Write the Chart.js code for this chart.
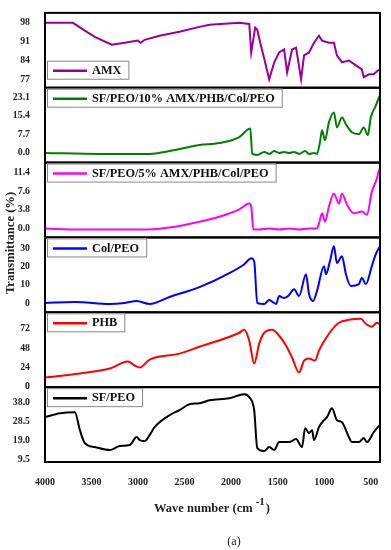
<!DOCTYPE html>
<html>
<head>
<meta charset="utf-8">
<script src="https://cdn.jsdelivr.net/npm/chart.js"></script>
<style>
  body { margin: 0; background: #fff; }
</style>
</head>
<body>
<canvas id="myChart" width="391" height="550"></canvas>
<script>
// series names (top to bottom)
var seriesNames = ["AMX", "SF/PEO/10% AMX/PHB/Col/PEO", "SF/PEO/5% AMX/PHB/Col/PEO", "Col/PEO", "PHB", "SF/PEO"];

// wave numbers (cm-1) and transmittance (%)
var amxWn = [4000, 3700, 3572, 3465, 3283, 3143, 3004, 2972, 2929, 2769, 2555, 2340, 2233, 1912, 1805, 1784, 1741, 1719, 1687, 1634, 1591, 1537, 1484, 1430, 1398, 1345, 1302, 1248, 1216, 1163, 1109, 1056, 1023, 949, 895, 863, 809, 734, 659, 595, 574, 520, 467, 424, 400];
var amxT  = [98.0, 98.0, 95.1, 92.8, 89.9, 90.6, 91.4, 90.6, 91.7, 93.2, 94.7, 96.5, 97.3, 98.0, 97.6, 87.0, 96.2, 95.4, 90.6, 83.3, 77.0, 83.3, 87.0, 88.1, 79.6, 88.1, 88.8, 77.0, 85.9, 87.0, 90.6, 93.2, 91.4, 90.6, 90.6, 85.9, 83.3, 84.0, 82.2, 80.7, 77.8, 78.9, 78.9, 80.3, 80.6];

var tenWn = [4000, 3411, 2876, 2662, 2340, 2126, 1912, 1794, 1773, 1719, 1644, 1591, 1537, 1484, 1430, 1377, 1323, 1270, 1205, 1163, 1109, 1077, 1045, 1023, 991, 949, 895, 863, 809, 766, 702, 627, 574, 531, 499, 445, 413, 400];
var tenT  = [0.0, -0.4, -0.4, 0.8, 3.3, 4.1, 6.6, 10.2, -0.4, -0.8, 0.4, -0.4, 0.8, 0.0, 0.4, 0.0, 0.4, -0.4, 0.8, -0.4, 0.0, -0.4, 4.5, 9.4, 5.3, 12.7, 16.8, 10.6, 14.7, 11.9, 8.6, 7.8, 10.6, 7.4, 14.7, 19.7, 22.9, 24.0];

var fiveWn = [4000, 3625, 2876, 2662, 2340, 2126, 1912, 1805, 1784, 1762, 1698, 1591, 1484, 1377, 1270, 1163, 1077, 1056, 1023, 991, 949, 895, 841, 809, 755, 681, 595, 541, 488, 434, 413, 400];
var fiveT  = [0.0, -0.2, -0.2, 0.2, 1.4, 2.4, 3.9, 5.1, 4.5, -0.2, -0.2, 0.0, -0.2, 0.0, -0.2, 0.0, 0.0, 1.0, 3.1, 1.4, 4.5, 7.1, 5.1, 7.1, 4.9, 3.1, 3.5, 2.8, 7.5, 10.2, 11.8, 12.3];

var colWn = [4000, 3679, 3304, 3143, 3015, 2876, 2662, 2340, 2019, 1859, 1784, 1752, 1719, 1644, 1591, 1516, 1484, 1430, 1377, 1323, 1270, 1195, 1163, 1120, 1077, 1002, 980, 938, 895, 863, 809, 766, 713, 627, 595, 552, 488, 445, 413, 400];
var colT  = [0.0, 0.6, -0.6, 0.0, 1.1, -0.6, 3.3, 8.7, 16.4, 21.3, 24.6, 22.9, 0.0, -0.5, 1.6, -0.5, 3.8, 2.7, 4.4, 7.6, 3.8, 15.8, 4.9, 1.1, 6.6, 20.2, 15.8, 22.9, 31.1, 21.9, 25.7, 15.8, 9.3, 10.4, 13.7, 10.4, 20.2, 26.8, 30.1, 31.0];

var phbWn = [4000, 3625, 3304, 3111, 3036, 2983, 2876, 2555, 2340, 1912, 1859, 1805, 1752, 1698, 1644, 1559, 1484, 1409, 1345, 1270, 1216, 1163, 1098, 1056, 949, 841, 734, 606, 552, 488, 434, 400];
var phbT  = [11.2, 16.2, 22.4, 31.1, 26.1, 23.6, 33.6, 41.0, 49.7, 67.1, 70.9, 57.2, 28.6, 53.5, 67.1, 70.9, 63.4, 51.0, 36.1, 17.4, 32.3, 34.8, 32.3, 44.8, 65.9, 79.6, 83.3, 84.6, 78.3, 74.6, 79.6, 77.5];

var sfWn = [4000, 3839, 3679, 3625, 3572, 3465, 3304, 3197, 3090, 3015, 2983, 2929, 2876, 2822, 2662, 2555, 2447, 2340, 2233, 2019, 1859, 1805, 1752, 1719, 1644, 1591, 1537, 1484, 1377, 1302, 1238, 1205, 1163, 1130, 1109, 1056, 1002, 970, 916, 863, 809, 734, 702, 627, 574, 541, 467, 413, 400];
var sfT  = [30.5, 32.5, 33.0, 24.0, 17.5, 15.5, 14.0, 16.0, 16.5, 20.5, 19.0, 18.5, 21.5, 25.5, 31.5, 34.0, 37.0, 37.5, 39.0, 40.0, 42.0, 40.5, 34.0, 15.0, 13.5, 15.5, 14.0, 18.0, 18.0, 19.5, 15.5, 25.0, 22.5, 24.0, 19.0, 25.5, 29.0, 30.5, 35.0, 29.0, 28.0, 20.5, 18.0, 18.0, 20.0, 18.0, 23.0, 26.0, 26.5];

// tick labels
var xTicks = [4000, 3500, 3000, 2500, 2000, 1500, 1000, 500];
var amxTicks  = ["77", "84", "91", "98"];
var tenTicks  = ["0.0", "7.7", "15.4", "23.1"];
var fiveTicks = ["0.0", "3.8", "7.6", "11.4"];
var colTicks  = ["0", "10", "20", "30"];
var phbTicks  = ["0", "24", "48", "72"];
var sfTicks   = ["9.5", "19.0", "28.5", "38.0"];

var serif = "'Liberation Serif', 'Times New Roman', serif";

var panels = [
  {id: "y0", wn: amxWn,  t: amxT,  ticks: amxTicks,  min: 73.9, max: 101.7, color: "#990099", legendBottom: true},
  {id: "y1", wn: tenWn,  t: tenT,  ticks: tenTicks,  min: -4.0, max: 27.1,  color: "#008000"},
  {id: "y2", wn: fiveWn, t: fiveT, ticks: fiveTicks, min: -1.83, max: 13.5, color: "#ff00ff"},
  {id: "y3", wn: colWn,  t: colT,  ticks: colTicks,  min: -5.1, max: 36,    color: "#0000ff"},
  {id: "y4", wn: phbWn,  t: phbT,  ticks: phbTicks,  min: -0.9, max: 92.7,  color: "#ff0000"},
  {id: "y5", wn: sfWn,   t: sfT,   ticks: sfTicks,   min: 8,    max: 45.6,  color: "#000000"}
];

var scales = {
  x: {
    type: "linear", min: 400, max: 4000, reverse: true,
    grid: {display: false}, border: {display: false},
    afterBuildTicks: function(axis) {
      axis.ticks = xTicks.map(function(v) { return {value: v}; });
    },
    ticks: {
      padding: 6, color: "#222", autoSkip: false, maxRotation: 0,
      font: {family: serif, weight: "bold", size: 10},
      callback: function(v) { return String(v); }
    },
    afterFit: function(axis) { axis.height = 88; }
  }
};

// stacked axes are placed bottom first, so add them in reverse
panels.slice().reverse().forEach(function(p) {
  scales[p.id] = {
    type: "linear", position: "left", stack: "panels", stackWeight: 1,
    min: p.min, max: p.max,
    grid: {display: false}, border: {display: false},
    afterBuildTicks: function(axis) {
      axis.ticks = p.ticks.map(function(s) { return {value: parseFloat(s)}; });
    },
    ticks: {
      padding: 7, color: "#222",
      font: {family: serif, weight: "bold", size: 9.8},
      callback: function(v, i) { return p.ticks[i]; }
    },
    afterFit: function(axis) { axis.width = 45; }
  };
});

var framePlugin = {
  id: "frames",
  afterDraw: function(chart) {
    var ctx = chart.ctx;
    var area = chart.chartArea;
    ctx.save();
    // panel frames
    ctx.strokeStyle = "#000";
    ctx.lineWidth = 2;
    panels.forEach(function(p) {
      var s = chart.scales[p.id];
      ctx.strokeRect(area.left, s.top, area.right - area.left, s.bottom - s.top);
    });
    // legend boxes
    ctx.font = "bold 12.3px " + serif;
    ctx.textBaseline = "middle";
    panels.forEach(function(p, i) {
      var s = chart.scales[p.id];
      var bx = area.left + 2;
      var by = p.legendBottom ? s.bottom - 27 : s.top + 1;
      var bh = 18;
      var tw = ctx.measureText(seriesNames[i]).width;
      var bw = 47 + tw + 5;
      ctx.fillStyle = "#fff";
      ctx.fillRect(bx, by, bw, bh);
      ctx.strokeStyle = "#888";
      ctx.lineWidth = 1;
      ctx.strokeRect(bx + 0.5, by + 0.5, bw, bh);
      ctx.strokeStyle = p.color;
      ctx.lineWidth = 2.5;
      ctx.beginPath();
      ctx.moveTo(bx + 6, by + bh / 2 + 1);
      ctx.lineTo(bx + 40, by + bh / 2 + 1);
      ctx.stroke();
      ctx.fillStyle = "#111";
      ctx.textAlign = "left";
      ctx.fillText(seriesNames[i], bx + 45, by + bh / 2 + 1);
    });
    // y axis title
    ctx.fillStyle = "#222";
    ctx.font = "bold 12.6px " + serif;
    ctx.textAlign = "center";
    ctx.translate(11, 243);
    ctx.rotate(-Math.PI / 2);
    ctx.fillText("Transmittance (%)", 0, 0);
    ctx.restore();

    // x axis title with superscript
    ctx.save();
    ctx.fillStyle = "#222";
    ctx.textBaseline = "alphabetic";
    ctx.textAlign = "left";
    ctx.font = "bold 12.5px " + serif;
    var main = "Wave number (cm";
    var w1 = ctx.measureText(main).width;
    ctx.font = "bold 11px " + serif;
    var w2 = ctx.measureText("-1").width;
    ctx.font = "bold 12.5px " + serif;
    var w3 = ctx.measureText(")").width;
    var x0 = 212 - (w1 + w2 + 4 + w3) / 2;
    ctx.fillText(main, x0, 512);
    ctx.font = "bold 11px " + serif;
    ctx.fillText("-1", x0 + w1 + 3, 505);
    ctx.font = "bold 12.5px " + serif;
    ctx.fillText(")", x0 + w1 + w2 + 4, 512);
    // panel label
    ctx.font = "12px " + serif;
    ctx.textAlign = "center";
    ctx.textBaseline = "middle";
    ctx.fillText("(a)", 234, 542);
    ctx.restore();
  }
};

new Chart("myChart", {
  type: "line",
  data: {
    datasets: panels.map(function(p, i) {
      return {
        label: seriesNames[i],
        data: p.wn.map(function(w, k) { return {x: w, y: p.t[k]}; }),
        yAxisID: p.id,
        borderColor: p.color,
        borderWidth: 2,
        pointRadius: 0,
        fill: false,
        cubicInterpolationMode: i === 0 ? "default" : "monotone",
        tension: 0
      };
    })
  },
  options: {
    responsive: false,
    animation: false,
    layout: {padding: {top: 10, right: 11, left: 0, bottom: 0}},
    plugins: {legend: {display: false}, tooltip: {enabled: false}},
    scales: scales
  },
  plugins: [framePlugin]
});
</script>
</body>
</html>
